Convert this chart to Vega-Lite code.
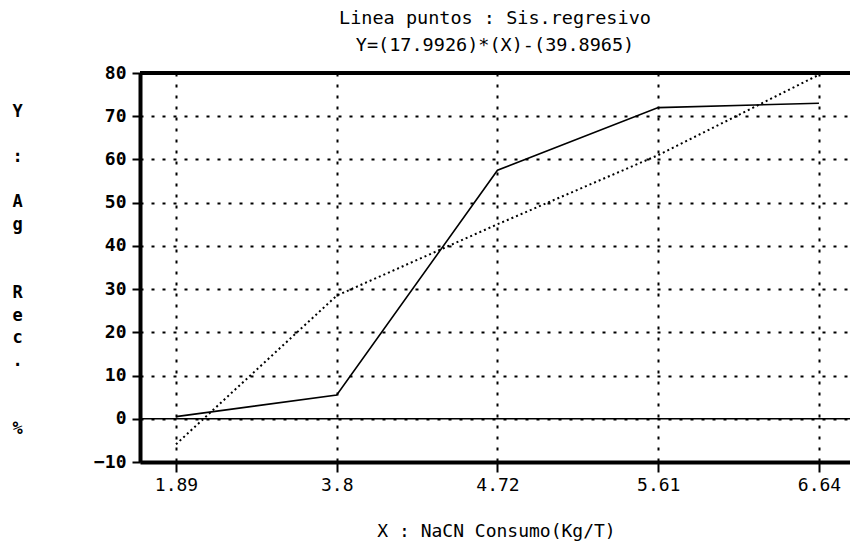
{
  "$schema": "https://vega.github.io/schema/vega-lite/v6.json",
  "width": 710,
  "height": 389,
  "autosize": {"type": "none"},
  "padding": {"left": 140, "top": 73, "right": 0, "bottom": 87},
  "background": "white",
  "config": {"view": {"stroke": null}, "font": "DejaVu Sans Mono"},
  "title": {
    "text": ["Linea puntos : Sis.regresivo", "Y=(17.9926)*(X)-(39.8965)"],
    "anchor": "middle",
    "frame": "group",
    "font": "DejaVu Sans Mono",
    "fontSize": 18.5,
    "fontWeight": "normal",
    "lineHeight": 27,
    "offset": 10,
    "color": "black"
  },
  "layer": [
    {
      "data": {"values": [
        {"X": "1.89", "Y": 0.5},
        {"X": "3.8", "Y": 5.5},
        {"X": "4.72", "Y": 57.5},
        {"X": "5.61", "Y": 72},
        {"X": "6.64", "Y": 73}
      ]},
      "mark": {"type": "line", "color": "black", "strokeWidth": 1.6},
      "encoding": {
        "x": {
          "field": "X", "type": "ordinal", "sort": null,
          "scale": {"type": "point", "padding": 0.2085, "align": 0.537},
          "axis": {
            "title": "X : NaCN Consumo(Kg/T)",
            "titleFont": "DejaVu Sans Mono", "titleFontSize": 18, "titleFontWeight": "normal", "titleColor": "black",
            "titleX": 356, "titleY": 69, "titleBaseline": "middle", "titleAlign": "center",
            "labelAngle": 0, "labelFont": "DejaVu Sans Mono", "labelFontSize": 18, "labelFontWeight": "normal", "labelColor": "black", "labelPadding": 4,
            "domainColor": "black", "domainWidth": 4,
            "tickColor": "black", "tickWidth": 2, "tickSize": 10,
            "grid": true, "gridColor": "black", "gridWidth": 2, "gridDash": [3, 8], "gridOpacity": 1
          }
        },
        "y": {
          "field": "Y", "type": "quantitative",
          "scale": {"domain": [-10, 80], "nice": false, "zero": false},
          "axis": {
            "values": [-10, 0, 10, 20, 30, 40, 50, 60, 70, 80],
            "title": ["Y", "\u200b", ":", "\u200b", "A", "g", "\u200b", "\u200b", "R", "e", "c", ".", "\u200b", "\u200b", "%"],
            "titleAngle": 0, "titleAlign": "center", "titleBaseline": "top",
            "titleX": -123, "titleY": 30, "titleLineHeight": 22.7,
            "titleFont": "DejaVu Sans Mono", "titleFontSize": 17, "titleFontWeight": "bold", "titleColor": "black",
            "labelFont": "DejaVu Sans Mono", "labelFontSize": 18, "labelFontWeight": "bold", "labelColor": "black", "labelPadding": 6,
            "domainColor": "black", "domainWidth": 4,
            "tickColor": "black", "tickWidth": 2, "tickSize": 8,
            "grid": true, "gridColor": "black", "gridWidth": 2, "gridDash": [3, 8], "gridOpacity": 1
          }
        }
      }
    },
    {
      "data": {"values": [
        {"X": "1.89", "Y": -5.9},
        {"X": "3.8", "Y": 28.5},
        {"X": "4.72", "Y": 45.0},
        {"X": "5.61", "Y": 61.0},
        {"X": "6.64", "Y": 79.6}
      ]},
      "mark": {"type": "line", "color": "black", "strokeWidth": 2, "strokeDash": [2, 3]},
      "encoding": {
        "x": {"field": "X", "type": "ordinal", "sort": null},
        "y": {"field": "Y", "type": "quantitative"}
      }
    },
    {
      "data": {"values": [{"Y": 0}]},
      "mark": {"type": "rule", "color": "black", "strokeWidth": 1.5},
      "encoding": {"y": {"field": "Y", "type": "quantitative"}}
    },
    {
      "data": {"values": [{"Y": 80}]},
      "mark": {"type": "rule", "color": "black", "strokeWidth": 4},
      "encoding": {"y": {"field": "Y", "type": "quantitative"}}
    }
  ]
}
